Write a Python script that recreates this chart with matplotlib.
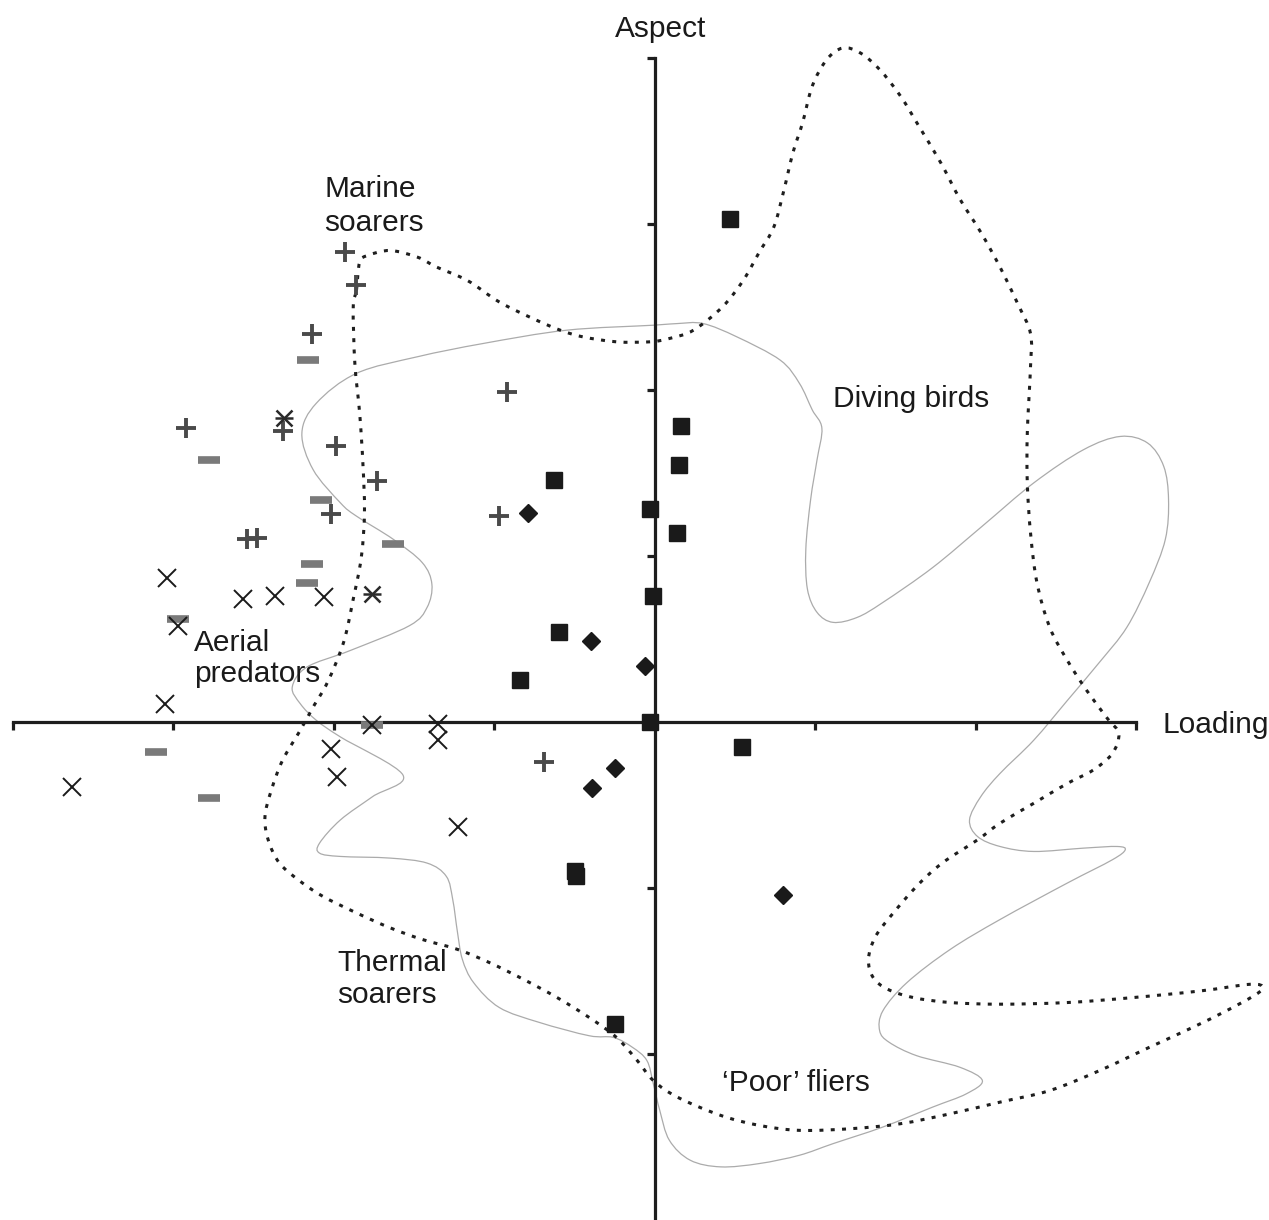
import matplotlib
matplotlib.use("Agg")
import matplotlib.pyplot as plt
import numpy as np
from matplotlib.path import Path
from matplotlib.patches import PathPatch

plt.rcParams['font.family'] = ['Liberation Sans', 'DejaVu Sans']

# --- data ---
# filled squares
sq_x = [0.47, 0.16, 0.15, -0.63, -0.03, 0.14, -0.01, -0.60, -0.84, -0.03, 0.54, -0.50, -0.49, -0.25]
sq_y = [3.03, 1.78, 1.55, 1.46, 1.28, 1.14, 0.76, 0.54, 0.25, 0.00, -0.15, -0.90, -0.93, -1.82]
# filled diamonds
dm_x = [-0.79, -0.40, -0.06, -0.25, -0.39, 0.80]
dm_y = [1.26, 0.49, 0.34, -0.28, -0.40, -1.04]
# plus signs
pl_x = [-1.93, -1.86, -2.14, -2.92, -2.32, -1.99, -1.73, -2.02, -2.54, -2.48, -0.92, -0.97, -0.69]
pl_y = [2.83, 2.63, 2.34, 1.77, 1.75, 1.66, 1.45, 1.25, 1.10, 1.11, 1.99, 1.24, -0.24]
# grey dashes
ds_x = [-2.16, -2.78, -2.08, -1.63, -2.14, -2.17, -2.97, -1.76, -3.11, -2.78]
ds_y = [2.18, 1.58, 1.34, 1.07, 0.95, 0.84, 0.62, -0.02, -0.18, -0.46]
# crosses
cr_x = [-3.04, -2.57, -2.37, -2.06, -2.97, -3.05, -1.76, -1.35, -1.35, -2.02, -1.98, -3.63, -1.23]
cr_y = [0.87, 0.74, 0.76, 0.75, 0.58, 0.11, -0.02, -0.01, -0.11, -0.16, -0.33, -0.39, -0.63]
# asterisks
st_x = [-2.31, -1.76]
st_y = [1.83, 0.77]

# dotted outline (closed)
dot_x = [-1.86, -1.84, -1.79, -1.65, -1.48, -1.36, -1.17, -0.97, -0.76, -0.59, -0.45, -0.24, -0.03, 0.09,
         0.24, 0.42, 0.55, 0.65, 0.74, 0.80, 0.86, 0.92, 0.98, 1.07, 1.17, 1.28, 1.40, 1.53, 1.65, 1.78,
         1.90, 2.03, 2.15, 2.26, 2.34, 2.34, 2.32, 2.32, 2.34, 2.38, 2.46, 2.57, 2.69, 2.82, 2.89, 2.85,
         2.73, 2.57, 2.36, 2.15, 2.01, 1.79, 1.63, 1.46, 1.37, 1.33, 1.36, 1.45, 1.61, 1.84, 2.15, 2.57,
         2.98, 3.40, 3.71, 3.79, 3.73, 3.56, 3.35, 3.08, 2.77, 2.46, 2.15, 1.84, 1.53, 1.22, 0.90, 0.65,
         0.41, 0.14, -0.01, -0.11, -0.24, -0.41, -0.61, -0.82, -1.03, -1.23, -1.45, -1.65, -1.86, -2.07,
         -2.21, -2.34, -2.41, -2.43, -2.39, -2.32, -2.21, -2.13, -2.04, -1.94, -1.88, -1.83, -1.81, -1.82,
         -1.84, -1.87, -1.88]
dot_y = [2.60, 2.77, 2.81, 2.84, 2.80, 2.74, 2.66, 2.53, 2.43, 2.36, 2.32, 2.29, 2.29, 2.31,
         2.36, 2.50, 2.66, 2.83, 2.98, 3.19, 3.43, 3.61, 3.83, 3.99, 4.06, 4.03, 3.93, 3.77, 3.58, 3.37,
         3.15, 2.95, 2.74, 2.52, 2.34, 2.14, 1.74, 1.44, 1.14, 0.84, 0.57, 0.37, 0.19, 0.02, -0.07, -0.19,
         -0.29, -0.37, -0.49, -0.61, -0.71, -0.85, -0.99, -1.18, -1.30, -1.43, -1.54, -1.61, -1.66, -1.69, -1.70, -1.69,
         -1.66, -1.62, -1.58, -1.60, -1.65, -1.74, -1.84, -1.96, -2.10, -2.22, -2.29, -2.36, -2.42, -2.45, -2.46, -2.43,
         -2.37, -2.26, -2.16, -2.04, -1.90, -1.78, -1.66, -1.55, -1.45, -1.37, -1.31, -1.24, -1.15, -1.05,
         -0.96, -0.85, -0.71, -0.57, -0.41, -0.23, -0.05, 0.09, 0.24, 0.48, 0.74, 0.99, 1.26, 1.56,
         1.86, 2.16, 2.50]

# solid grey outline (closed)
sol_x = [-2.20, -2.11, -1.86, -1.48, -1.07, -0.55, -0.01, 0.14, 0.30, 0.51, 0.78, 0.90, 0.98, 1.04,
         1.01, 0.97, 0.94, 0.95, 1.01, 1.11, 1.26, 1.42, 1.73, 2.04, 2.36, 2.67, 2.90, 3.07, 3.17, 3.20,
         3.18, 3.08, 2.94, 2.77, 2.57, 2.36, 2.15, 2.03, 1.96, 2.01, 2.15, 2.36, 2.67, 2.88, 2.93, 2.85,
         2.57, 2.15, 1.84, 1.57, 1.42, 1.40, 1.46, 1.63, 1.90, 2.04, 1.94, 1.73, 1.42, 1.11, 0.90, 0.65,
         0.41, 0.22, 0.09, 0.03, -0.01, -0.05, -0.14, -0.26, -0.41, -0.72, -0.97, -1.13, -1.20, -1.23,
         -1.26, -1.30, -1.42, -1.65, -1.96, -2.09, -2.09, -1.96, -1.76, -1.57, -1.96, -2.11, -2.21, -2.26,
         -2.17, -1.90, -1.53, -1.42, -1.39, -1.45, -1.63, -1.86, -1.96, -2.13]
sol_y = [1.74, 1.92, 2.10, 2.20, 2.28, 2.36, 2.39, 2.40, 2.40, 2.32, 2.18, 2.04, 1.88, 1.77,
         1.58, 1.34, 1.04, 0.80, 0.66, 0.60, 0.63, 0.72, 0.93, 1.18, 1.44, 1.64, 1.72, 1.68, 1.54, 1.34,
         1.10, 0.84, 0.57, 0.36, 0.13, -0.11, -0.31, -0.45, -0.59, -0.69, -0.75, -0.78, -0.76, -0.75, -0.77, -0.83,
         -0.97, -1.19, -1.37, -1.57, -1.74, -1.86, -1.93, -2.01, -2.08, -2.16, -2.24, -2.32, -2.44, -2.54, -2.61, -2.66,
         -2.68, -2.64, -2.52, -2.34, -2.18, -2.04, -1.96, -1.90, -1.89, -1.81, -1.72, -1.57, -1.43, -1.27,
         -1.07, -0.93, -0.85, -0.82, -0.81, -0.79, -0.73, -0.59, -0.45, -0.32, -0.09, 0.01, 0.11, 0.21,
         0.33, 0.43, 0.58, 0.69, 0.83, 0.96, 1.10, 1.24, 1.32, 1.52]

# group labels: (text, x, y of baseline)
labels = [("Marine", -2.06, 3.16), ("soarers", -2.06, 2.96),
          ("Diving birds", 1.11, 1.90),
          ("Aerial", -2.87, 0.43), ("predators", -2.87, 0.24),
          ("Thermal", -1.98, -1.50), ("soarers", -1.98, -1.69),
          ("\u2018Poor\u2019 fliers", 0.42, -2.22)]

x_ticks = [-4, -3, -2, -1, 0, 1, 2, 3]
y_ticks = [-2, -1, 1, 2, 3, 4]


def smooth_closed(xs, ys):
    # closed Catmull-Rom outline turned into cubic Bezier segments
    p = np.column_stack([xs, ys])
    n = len(p)
    verts = [p[0]]
    codes = [Path.MOVETO]
    for i in range(n):
        p0, p1, p2, p3 = p[i - 1], p[i], p[(i + 1) % n], p[(i + 2) % n]
        verts += [p1 + (p2 - p0) / 6.0, p2 - (p3 - p1) / 6.0, p2]
        codes += [Path.CURVE4] * 3
    return Path(verts, codes)


# --- figure ---
fig = plt.figure(figsize=(12.69, 12.2), dpi=100)
ax = fig.add_axes([0, 0, 1, 1])
ax.set_xlim(-4.081, 3.826)
ax.set_ylim(-3.0, 4.349)

ax.add_patch(PathPatch(smooth_closed(sol_x, sol_y), fill=False, edgecolor="#ababab", lw=0.9, zorder=1))
ax.add_patch(PathPatch(smooth_closed(dot_x, dot_y), fill=False, edgecolor="#1e1e1e", lw=2.2,
                       linestyle=(0, (1.3, 2.4)), zorder=1))

axis_col = "#1e1e1e"
for side in ["top", "right"]:
    ax.spines[side].set_visible(False)
ax.spines["left"].set_position(("data", 0))
ax.spines["bottom"].set_position(("data", 0))
ax.spines["left"].set_bounds(-3, 4)
ax.spines["bottom"].set_bounds(-4, 3)
for side in ["left", "bottom"]:
    ax.spines[side].set_linewidth(2.3)
    ax.spines[side].set_color(axis_col)
    ax.spines[side].set_zorder(2)
ax.set_xticks(x_ticks)
ax.set_yticks(y_ticks)
ax.tick_params(direction="out", length=6, width=2.3, color=axis_col,
               labelbottom=False, labelleft=False)

ax.plot(ds_x, ds_y, ls="none", marker="_", ms=15.5, mew=5.5, color="#7a7a7a", zorder=3)
ax.plot(pl_x, pl_y, ls="none", marker="+", ms=14, mew=2.8, color="#4a4a4a", zorder=3)
ax.plot(cr_x, cr_y, ls="none", marker="x", ms=13, mew=1.4, color="#1a1a1a", zorder=3)
ax.plot(st_x, st_y, ls="none", marker="x", ms=12, mew=1.8, color="#2a2a2a", zorder=3)
ax.plot(st_x, st_y, ls="none", marker="_", ms=13, mew=1.8, color="#2a2a2a", zorder=3)
ax.plot(sq_x, sq_y, ls="none", marker="s", ms=11, color="#1a1a1a", zorder=3)
ax.plot(dm_x, dm_y, ls="none", marker="D", ms=9.5, color="#1a1a1a", zorder=3)

txt_kw = dict(fontsize=21.5, color="#1a1a1a")
for t, x, y in labels:
    ax.text(x, y, t, ha="left", va="baseline", **txt_kw)
ax.text(0.034, 4.127, "Aspect", ha="center", va="baseline", **txt_kw)
ax.text(3.165, -0.066, "Loading", ha="left", va="baseline", **txt_kw)

fig.savefig("out.png", dpi=100)
